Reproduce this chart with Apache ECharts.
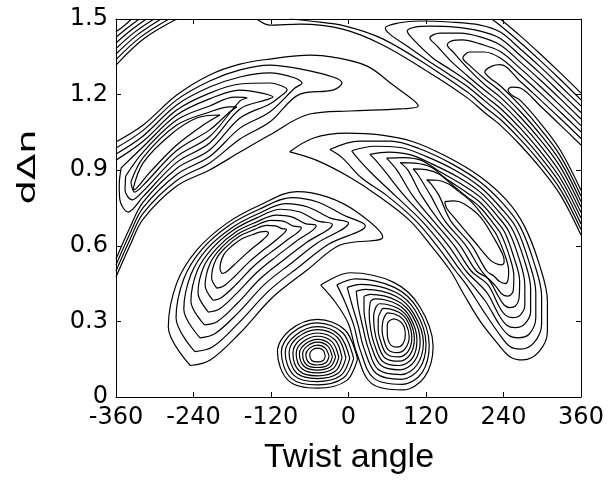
<!DOCTYPE html>
<html>
<head>
<meta charset="utf-8">
<script src="https://cdn.jsdelivr.net/npm/echarts@6/dist/echarts.min.js"></script>
<style>
  html, body { margin: 0; padding: 0; background: #fff; }
  #chart { width: 608px; height: 481px; }
</style>
</head>
<body>
<div id="chart"></div>
<script>
// axis ticks
const xTicks = [-360, -240, -120, 0, 120, 240, 360]
const yTicks = [0, 0.3, 0.6, 0.9, 1.2, 1.5]

// contour lines, points are [twist angle, dΔn]
// small round lobe near (-48, 0.17)
const lobeA = [
  [[14,.150],[-5,.265],[-48,.308],[-91,.265],[-110,.18],[-93,.065],[-48,.035],[-3,.065],[14,.150]],
  [[8,.152],[-9,.255],[-48,.294],[-87,.255],[-104,.179],[-89,.075],[-48,.048],[-8,.075],[8,.152]],
  [[2,.153],[-14,.245],[-48,.279],[-82,.245],[-98,.177],[-84,.085],[-48,.061],[-12,.085],[2,.153]],
  [[-4,.154],[-17,.236],[-48,.267],[-79,.236],[-92,.176],[-80,.094],[-48,.073],[-16,.094],[-4,.154]],
  [[-10,.156],[-21,.227],[-48,.254],[-75,.227],[-86,.174],[-76,.103],[-48,.084],[-20,.103],[-10,.156]],
  [[-15,.157],[-25,.218],[-48,.241],[-71,.218],[-81,.173],[-72,.112],[-48,.096],[-24,.112],[-15,.157]],
  [[-20,.158],[-29,.21],[-48,.229],[-67,.21],[-76,.172],[-68,.12],[-48,.107],[-28,.12],[-20,.158]],
  [[-25,.159],[-32,.202],[-48,.218],[-64,.202],[-71,.171],[-65,.128],[-48,.117],[-31,.128],[-25,.159]],
  [[-30,.161],[-36,.194],[-48,.206],[-60,.194],[-66,.169],[-61,.136],[-48,.127],[-35,.136],[-30,.161]],
  [[-36,.162],[-39,.185],[-48,.194],[-57,.185],[-60,.168],[-57,.145],[-48,.139],[-39,.145],[-36,.162]]
]

// kidney lobe near (73, 0.26)
const lobeB = [
  [[-43,.444],[2,.493],[70,.455],[110,.36],[131,.2],[118,.08],[84,.028],[35,.055],[12,.18],[0,.29],[-20,.375],[-43,.444]],
  [[-18,.445],[11,.469],[71,.435],[107,.35],[125,.206],[114,.097],[83,.05],[39,.075],[18,.187],[8,.286],[-6,.38],[-18,.445]],
  [[-2,.435],[19,.447],[73,.416],[104,.34],[120,.211],[110,.113],[82,.07],[43,.093],[24,.193],[15,.283],[5,.37],[-2,.435]],
  [[12,.42],[26,.427],[74,.399],[101,.331],[116,.216],[106,.127],[81,.089],[46,.109],[30,.198],[22,.279],[15,.36],[12,.42]],
  [[24,.40],[34,.407],[75,.382],[99,.322],[111,.221],[102,.141],[80,.108],[50,.126],[35,.204],[28,.276],[24,.348],[24,.40]],
  [[34,.38],[41,.389],[76,.367],[96,.314],[106,.226],[99,.154],[79,.125],[53,.141],[40,.209],[34,.273],[32,.335],[34,.38]],
  [[43,.36],[48,.37],[77,.351],[94,.306],[102,.23],[95,.167],[78,.142],[56,.156],[45,.214],[40,.27],[39,.322],[43,.36]],
  [[50,.34],[54,.352],[78,.336],[92,.298],[98,.235],[92,.18],[77,.159],[59,.171],[50,.219],[46,.267],[46,.31],[50,.34]],
  [[56,.32],[61,.334],[79,.32],[89,.29],[94,.239],[88,.193],[76,.176],[62,.186],[55,.224],[52,.264],[53,.298],[56,.32]],
  [[62,.30],[70,.31],[80,.30],[86,.28],[88,.245],[84,.21],[75,.198],[66,.205],[61,.23],[60,.26],[60,.285],[62,.30]]
]

// crescent near (-180, 0.6), tips pointing right
const lobeC = [
  [[-245,.125],[-279,.278],[-266,.452],[-235,.583],[-188,.69],[-137,.762],[-80,.815],[-33,.794],[13,.734],[53,.635],[-13,.603],[-64,.504],[-117,.397],[-168,.254],[-214,.147],[-245,.125]],
  [[-238,.18],[-267,.313],[-255,.469],[-227,.586],[-185,.681],[-139,.744],[-88,.791],[-47,.773],[-8,.722],[26,.68],[-31,.606],[-76,.518],[-123,.422],[-170,.294],[-210,.199],[-238,.18]],
  [[-230,.235],[-255,.348],[-244,.486],[-219,.588],[-181,.671],[-140,.727],[-97,.767],[-62,.753],[-28,.71],[0,.69],[-49,.61],[-88,.532],[-130,.447],[-171,.334],[-207,.251],[-230,.235]],
  [[-223,.286],[-244,.38],[-234,.502],[-211,.59],[-178,.663],[-142,.711],[-105,.745],[-75,.734],[-48,.699],[-25,.685],[-65,.613],[-100,.545],[-136,.471],[-172,.372],[-203,.3],[-223,.286]],
  [[-217,.337],[-233,.413],[-224,.518],[-203,.593],[-175,.654],[-143,.694],[-112,.722],[-88,.715],[-67,.688],[-50,.68],[-82,.616],[-111,.559],[-142,.494],[-174,.409],[-200,.349],[-217,.337]],
  [[-210,.384],[-222,.443],[-214,.532],[-196,.595],[-172,.646],[-145,.679],[-120,.701],[-100,.697],[-85,.678],[-73,.672],[-97,.619],[-122,.571],[-148,.516],[-175,.444],[-197,.394],[-210,.384]],
  [[-204,.432],[-212,.473],[-205,.547],[-189,.597],[-169,.638],[-146,.664],[-127,.681],[-113,.679],[-103,.668],[-96,.665],[-113,.621],[-132,.583],[-153,.538],[-176,.479],[-194,.439],[-204,.432]],
  [[-196,.49],[-199,.51],[-193,.565],[-180,.6],[-165,.628],[-148,.645],[-136,.655],[-128,.657],[-125,.655],[-124,.65],[-132,.625],[-145,.598],[-160,.565],[-178,.522],[-190,.495],[-196,.49]]
]

// long arc on the right, tips pointing left
const lobeD = [
  [[-91,.973],[-55,1.027],[-3,1.047],[49,1.04],[100,1.013],[152,.954],[204,.874],[245,.78],[272,.68],[295,.53],[308,.38],[308,.26],[295,.18],[270,.147],[250,.16],[230,.215],[204,.3],[178,.41],[158,.5],[128,.6],[95,.7],[45,.8],[0,.875],[-50,.94],[-91,.973]],
  [[-29,.982],[17,1.015],[65,1.015],[110,.985],[160,.925],[204,.853],[240,.765],[266,.675],[287,.535],[299,.4],[299,.29],[287,.215],[266,.19],[250,.2],[232,.255],[208,.345],[184,.44],[166,.5],[137,.6],[104,.7],[59,.8],[20,.87],[-10,.95],[-29,.982]],
  [[5,.977],[40,.995],[80,.99],[120,.955],[165,.9],[204,.833],[236,.75],[260,.67],[279,.54],[290,.415],[290,.315],[280,.25],[262,.235],[248,.245],[233,.29],[212,.38],[174,.5],[146,.6],[113,.7],[72,.8],[35,.89],[15,.945],[5,.977]],
  [[33,.963],[62,.972],[95,.962],[129,.925],[170,.872],[204,.813],[233,.735],[254,.664],[272,.545],[282,.43],[282,.34],[273,.29],[258,.275],[245,.285],[233,.325],[214,.415],[182,.5],[155,.6],[122,.7],[86,.8],[55,.9],[42,.94],[33,.963]],
  [[59,.948],[85,.95],[112,.94],[139,.898],[174,.846],[204,.793],[230,.72],[248,.658],[264,.55],[273,.445],[273,.365],[266,.325],[254,.315],[243,.325],[233,.36],[216,.445],[190,.5],[164,.6],[131,.7],[99,.8],[75,.9],[59,.948]],
  [[80,.93],[103,.928],[128,.912],[149,.87],[178,.82],[204,.772],[227,.705],[242,.653],[256,.555],[265,.46],[264,.39],[258,.36],[250,.355],[241,.365],[232,.4],[216,.47],[198,.5],[173,.6],[140,.7],[113,.8],[92,.9],[80,.93]],
  [[100,.905],[120,.902],[140,.885],[159,.845],[182,.797],[204,.752],[224,.69],[236,.647],[249,.56],[256,.48],[255,.42],[251,.405],[246,.40],[237,.41],[228,.44],[206,.5],[182,.6],[149,.7],[127,.8],[108,.88],[100,.905]],
  [[121,.862],[138,.86],[155,.845],[170,.817],[188,.78],[204,.733],[221,.675],[230,.64],[242,.565],[248,.5],[247,.465],[243,.45],[234,.458],[225,.48],[214,.5],[191,.6],[158,.7],[140,.8],[128,.845],[121,.862]],
  [[149,.775],[163,.778],[178,.768],[204,.715],[224,.636],[240,.557],[241,.535],[237,.524],[228,.53],[219,.544],[193,.623],[167,.702],[152,.749],[149,.775]]
]

// upper left band, cut by the left edge
const bandE = [
  [[-360,1.012],[-318,1.079],[-266,1.198],[-215,1.278],[-168,1.321],[-122,1.341],[-60,1.357],[-24,1.349],[29,1.313],[69,1.238],[100,1.179],[108,1.155],[80,1.143],[2,1.135],[-60,1.123],[-122,1.04],[-168,.972],[-215,.901],[-266,.837],[-318,.706],[-338,.603],[-360,.476]],
  [[-360,.988],[-318,1.058],[-266,1.179],[-215,1.254],[-168,1.298],[-122,1.317],[-75,1.302],[-24,1.27],[-10,1.246],[-24,1.218],[-75,1.202],[-122,1.091],[-168,1.024],[-215,.929],[-266,.859],[-318,.729],[-338,.627],[-360,.5]],
  [[-360,.964],[-318,1.036],[-266,1.159],[-215,1.23],[-168,1.27],[-122,1.286],[-83,1.266],[-72,1.246],[-83,1.226],[-122,1.131],[-168,1.067],[-215,.954],[-266,.883],[-318,.751],[-338,.651],[-360,.524]],
  [[-360,.94],[-318,1.015],[-266,1.139],[-215,1.206],[-168,1.242],[-122,1.246],[-103,1.234],[-95,1.218],[-103,1.198],[-122,1.163],[-168,1.107],[-215,.98],[-266,.907],[-318,.773],[-338,.675],[-360,.548]],
  [[-352,.909],[-318,.993],[-266,1.119],[-215,1.183],[-168,1.218],[-134,1.206],[-117,1.19],[-128,1.179],[-168,1.143],[-215,1.008],[-266,.931],[-318,.795],[-341,.734],[-354,.782],[-355,.841],[-352,.909]],
  [[-345,.877],[-318,.972],[-266,1.099],[-215,1.155],[-176,1.19],[-157,1.187],[-168,1.175],[-215,1.034],[-266,.954],[-318,.817],[-335,.782],[-346,.821],[-345,.877]],
  [[-337,.853],[-318,.95],[-266,1.079],[-215,1.131],[-184,1.151],[-173,1.151],[-184,1.131],[-215,1.06],[-266,.978],[-318,.84],[-331,.813],[-337,.853]],
  [[-334,.821],[-318,.929],[-276,1.04],[-235,1.107],[-199,1.119],[-225,1.079],[-266,1.0],[-307,.893],[-328,.829],[-334,.821]]
]

// upper right band, cut by the top and right edges
const bandF = [
  [[-142,1.5],[-122,1.476],[-75,1.48],[-9,1.46],[53,1.397],[131,1.278],[184,1.187],[211,1.128],[235,1.079],[266,1.0],[297,.909],[328,.802],[360,.643]],
  [[235,1.5],[266,1.433],[297,1.361],[328,1.286],[360,1.206]],
  [[-91,1.5],[-60,1.492],[-5,1.472],[53,1.421],[131,1.302],[184,1.21],[211,1.151],[235,1.102],[266,1.022],[297,.931],[328,.824],[360,.665]],
  [[222,1.5],[235,1.474],[266,1.407],[297,1.335],[328,1.26],[360,1.179]],
  [[360,1.155],[328,1.234],[297,1.31],[266,1.381],[235,1.448],[204,1.476],[157,1.488],[111,1.492],[77,1.484],[57,1.464],[64,1.44],[95,1.385],[131,1.321],[157,1.278],[184,1.232],[211,1.175],[235,1.124],[266,1.044],[297,.953],[328,.846],[360,.687]],
  [[360,1.129],[328,1.208],[297,1.284],[266,1.355],[235,1.423],[204,1.452],[165,1.468],[126,1.472],[103,1.468],[91,1.452],[98,1.425],[131,1.344],[157,1.301],[184,1.253],[211,1.195],[235,1.146],[266,1.067],[297,.975],[328,.868],[360,.71]],
  [[360,1.103],[328,1.183],[297,1.258],[266,1.329],[235,1.397],[204,1.429],[173,1.444],[142,1.444],[126,1.425],[137,1.393],[157,1.337],[184,1.275],[211,1.217],[235,1.168],[266,1.089],[297,.998],[328,.89],[360,.732]],
  [[360,1.077],[328,1.157],[297,1.232],[266,1.304],[235,1.371],[204,1.401],[176,1.417],[160,1.413],[153,1.397],[162,1.369],[184,1.306],[211,1.239],[235,1.19],[266,1.111],[297,1.02],[328,.913],[360,.754]],
  [[360,1.052],[328,1.131],[297,1.206],[266,1.278],[235,1.345],[210,1.369],[188,1.369],[177,1.345],[187,1.317],[211,1.262],[235,1.213],[266,1.133],[297,1.042],[328,.935],[360,.776]],
  [[360,1.026],[328,1.105],[297,1.179],[266,1.252],[235,1.319],[222,1.313],[211,1.29],[219,1.266],[235,1.235],[266,1.156],[297,1.064],[328,.957],[360,.798]],
  [[360,1.0],[328,1.079],[297,1.155],[266,1.226],[253,1.23],[247,1.218],[253,1.198],[266,1.177],[297,1.087],[328,.979],[360,.82]]
]

// top left corner
const cornerG = [
  [[-360,1.317],[-318,1.42],[-266,1.5]],
  [[-360,1.339],[-322,1.428],[-278,1.5]],
  [[-360,1.361],[-327,1.437],[-290,1.5]],
  [[-360,1.383],[-332,1.446],[-301,1.5]],
  [[-360,1.405],[-337,1.455],[-313,1.5]],
  [[-360,1.427],[-342,1.465],[-324,1.5]],
  [[-360,1.449],[-347,1.474],[-336,1.5]]
]

var myChart = echarts.init(document.getElementById('chart'))

var series = []
;[lobeA, lobeB, lobeC, lobeD, bandE, bandF, cornerG].forEach(group => {
  group.forEach(ring => {
    series.push({
      type: 'line',
      data: ring,
      smooth: 0.35,
      symbol: 'none',
      silent: true,
      animation: false,
      lineStyle: { color: '#000', width: 1.2 }
    })
  })
})

var tickFont = { color: '#000', fontSize: 24, fontFamily: 'DejaVu Sans' }
var xBase = {
  type: 'value',
  min: xTicks[0],
  max: xTicks[xTicks.length - 1],
  interval: xTicks[1] - xTicks[0],
  splitLine: { show: false },
  axisLine: { show: true, onZero: false, lineStyle: { color: '#000', width: 1 } },
  axisTick: { inside: true, length: 5, lineStyle: { color: '#000' } }
}
var yBase = {
  type: 'value',
  min: yTicks[0],
  max: yTicks[yTicks.length - 1],
  interval: 0.3,
  splitLine: { show: false },
  axisLine: { show: true, onZero: false, lineStyle: { color: '#000', width: 1 } },
  axisTick: { inside: true, length: 5, lineStyle: { color: '#000' } }
}

var option = {
  animation: false,
  backgroundColor: '#fff',
  grid: { left: 116, right: 27, top: 19, bottom: 84 },
  xAxis: [
    Object.assign({}, xBase, { position: 'bottom', axisLabel: Object.assign({ margin: 9 }, tickFont) }),
    Object.assign({}, xBase, { position: 'top', axisLabel: { show: false } })
  ],
  yAxis: [
    Object.assign({}, yBase, {
      position: 'left',
      axisLabel: Object.assign({ margin: 8, formatter: v => v === 0 ? '0' : v.toFixed(1) }, tickFont)
    }),
    Object.assign({}, yBase, { position: 'right', axisLabel: { show: false } })
  ],
  graphic: [
    {
      type: 'text',
      x: 349, y: 458,
      style: { text: 'Twist angle', fontSize: 34, fontFamily: 'Liberation Sans', fill: '#000', align: 'center', verticalAlign: 'middle' }
    },
    {
      type: 'text',
      x: 29, y: 167,
      rotation: Math.PI / 2,
      scaleX: 1.6,
      style: { text: 'dΔn', fontSize: 24, fontFamily: 'DejaVu Sans', fill: '#000', align: 'center', verticalAlign: 'middle' }
    }
  ],
  series: series
}

myChart.setOption(option)
window.addEventListener('resize', () => {
  myChart.resize()
})
</script>
</body>
</html>
